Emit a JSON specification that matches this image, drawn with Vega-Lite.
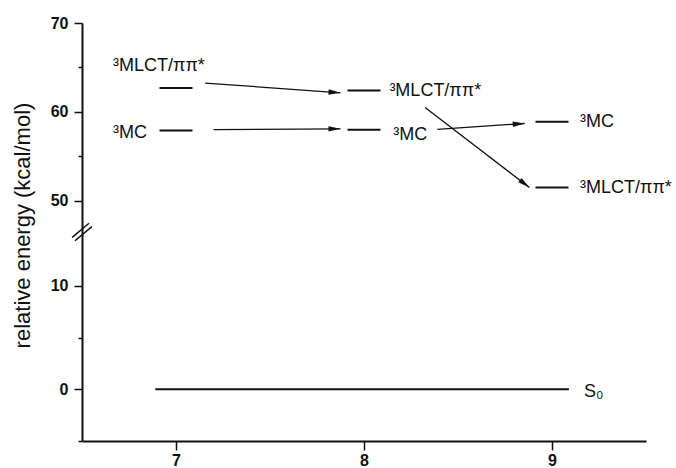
{
  "$schema": "https://vega.github.io/schema/vega-lite/v6.json",
  "width": 564,
  "height": 418,
  "autosize": {"type": "none"},
  "padding": {"left": 82, "top": 23, "right": 30, "bottom": 27},
  "background": "white",
  "config": {"view": {"stroke": null}, "font": "Liberation Sans"},
  "datasets": {
    "ground": [{"state": "S0", "energy": 0, "start": 6.89, "end": 9.09}],
    "levels": [
      {"n": 7, "state": "3MLCT", "energy": 62.7},
      {"n": 7, "state": "3MC", "energy": 57.9},
      {"n": 8, "state": "3MLCT", "energy": 62.4},
      {"n": 8, "state": "3MC", "energy": 58.0},
      {"n": 9, "state": "3MC", "energy": 58.9},
      {"n": 9, "state": "3MLCT", "energy": 51.5}
    ],
    "arrows": [
      {"arrow": "a1", "x_from": 7.155, "y_from": 63.25, "x_to": 7.875, "y_to": 62.15},
      {"arrow": "a2", "x_from": 7.2, "y_from": 58.0, "x_to": 7.875, "y_to": 58.1},
      {"arrow": "a3", "x_from": 8.39, "y_from": 58.05, "x_to": 8.855, "y_to": 58.7},
      {"arrow": "a4", "x_from": 8.325, "y_from": 60.5, "x_to": 8.88, "y_to": 51.5}
    ],
    "labels": [
      {"text": "³MLCT/ππ*", "x": 6.665, "y": 65.2},
      {"text": "³MC", "x": 6.665, "y": 57.6},
      {"text": "³MLCT/ππ*", "x": 8.135, "y": 62.3},
      {"text": "³MC", "x": 8.156, "y": 57.4},
      {"text": "³MC", "x": 9.149, "y": 58.9},
      {"text": "³MLCT/ππ*", "x": 9.149, "y": 51.5},
      {"text": "S₀", "x": 9.17, "y": -0.31}
    ],
    "axisbreak": [{"x": 6.5, "y": 15.2}]
  },
  "layer": [
    {
      "data": {"name": "ground"},
      "mark": {"type": "rule", "color": "#111", "strokeWidth": 2},
      "encoding": {
        "x": {
          "field": "start", "type": "quantitative",
          "scale": {"domain": [6.5, 9.5], "nice": false, "zero": false},
          "axis": {
            "values": [7, 8, 9], "format": "d", "title": null, "grid": false,
            "domainColor": "#111", "domainWidth": 2,
            "tickColor": "#111", "tickWidth": 1.5, "tickSize": 9,
            "labelFont": "Liberation Sans", "labelFontWeight": "bold", "labelFontSize": 16,
            "labelColor": "#111", "labelPadding": 2
          }
        },
        "x2": {"field": "end"},
        "y": {
          "field": "energy", "type": "quantitative",
          "scale": {"domain": [-5, 15.2, 46.5, 70], "range": [418, 209, 209, 0], "nice": false, "zero": false},
          "axis": {
            "values": [-5, 0, 5, 10, 50, 55, 60, 65, 70],
            "labelExpr": "datum.value % 10 == 0 ? datum.label : ''",
            "format": "d", "grid": false, "labelOverlap": false,
            "domainColor": "#111", "domainWidth": 2,
            "tickColor": "#111", "tickWidth": 1.5,
            "tickSize": {"condition": {"test": "datum.value % 10 != 0", "value": 4}, "value": 8},
            "labelFont": "Liberation Sans", "labelFontWeight": "bold", "labelFontSize": 16,
            "labelColor": "#111", "labelPadding": 6,
            "title": "relative energy (kcal/mol)",
            "titleFont": "Liberation Sans", "titleFontWeight": "normal", "titleFontSize": 22,
            "titleColor": "#111", "titleX": -60, "titleY": 202, "titleBaseline": "middle", "titleAngle": 270
          }
        }
      }
    },
    {
      "data": {"name": "levels"},
      "mark": {"type": "tick", "orient": "horizontal", "size": 33, "thickness": 2, "color": "#111", "opacity": 1},
      "encoding": {
        "x": {"field": "n", "type": "quantitative"},
        "y": {"field": "energy", "type": "quantitative"}
      }
    },
    {
      "data": {"name": "arrows"},
      "mark": {"type": "rule", "color": "#111", "strokeWidth": 1.3},
      "encoding": {
        "x": {"field": "x_from", "type": "quantitative"},
        "y": {"field": "y_from", "type": "quantitative"},
        "x2": {"field": "x_to"},
        "y2": {"field": "y_to"}
      }
    },
    {
      "data": {"name": "arrows"},
      "transform": [{"filter": "datum.arrow == 'a1'"}],
      "mark": {"type": "point", "shape": "M -2 -0.45 L 0 0 L -2 0.45 Z", "size": 144, "filled": true, "color": "#111", "opacity": 1, "angle": 4.1},
      "encoding": {"x": {"field": "x_to", "type": "quantitative"}, "y": {"field": "y_to", "type": "quantitative"}}
    },
    {
      "data": {"name": "arrows"},
      "transform": [{"filter": "datum.arrow == 'a2'"}],
      "mark": {"type": "point", "shape": "M -2 -0.45 L 0 0 L -2 0.45 Z", "size": 144, "filled": true, "color": "#111", "opacity": 1, "angle": 359.6},
      "encoding": {"x": {"field": "x_to", "type": "quantitative"}, "y": {"field": "y_to", "type": "quantitative"}}
    },
    {
      "data": {"name": "arrows"},
      "transform": [{"filter": "datum.arrow == 'a3'"}],
      "mark": {"type": "point", "shape": "M -2 -0.45 L 0 0 L -2 0.45 Z", "size": 144, "filled": true, "color": "#111", "opacity": 1, "angle": 356.2},
      "encoding": {"x": {"field": "x_to", "type": "quantitative"}, "y": {"field": "y_to", "type": "quantitative"}}
    },
    {
      "data": {"name": "arrows"},
      "transform": [{"filter": "datum.arrow == 'a4'"}],
      "mark": {"type": "point", "shape": "M -2 -0.45 L 0 0 L -2 0.45 Z", "size": 144, "filled": true, "color": "#111", "opacity": 1, "angle": 37.5},
      "encoding": {"x": {"field": "x_to", "type": "quantitative"}, "y": {"field": "y_to", "type": "quantitative"}}
    },
    {
      "data": {"name": "labels"},
      "mark": {"type": "text", "align": "left", "baseline": "middle", "font": "Liberation Sans", "fontSize": 18, "color": "#111"},
      "encoding": {
        "x": {"field": "x", "type": "quantitative"},
        "y": {"field": "y", "type": "quantitative"},
        "text": {"field": "text", "type": "nominal"}
      }
    },
    {
      "data": {"name": "axisbreak"},
      "mark": {"type": "point", "shape": "M -1 0.2 L 1 0.2 M -1 -0.2 L 1 -0.2", "size": 484, "filled": false, "stroke": "#111", "strokeWidth": 1.5, "opacity": 1, "angle": 320},
      "encoding": {
        "x": {"field": "x", "type": "quantitative"},
        "y": {"field": "y", "type": "quantitative"}
      }
    }
  ]
}
